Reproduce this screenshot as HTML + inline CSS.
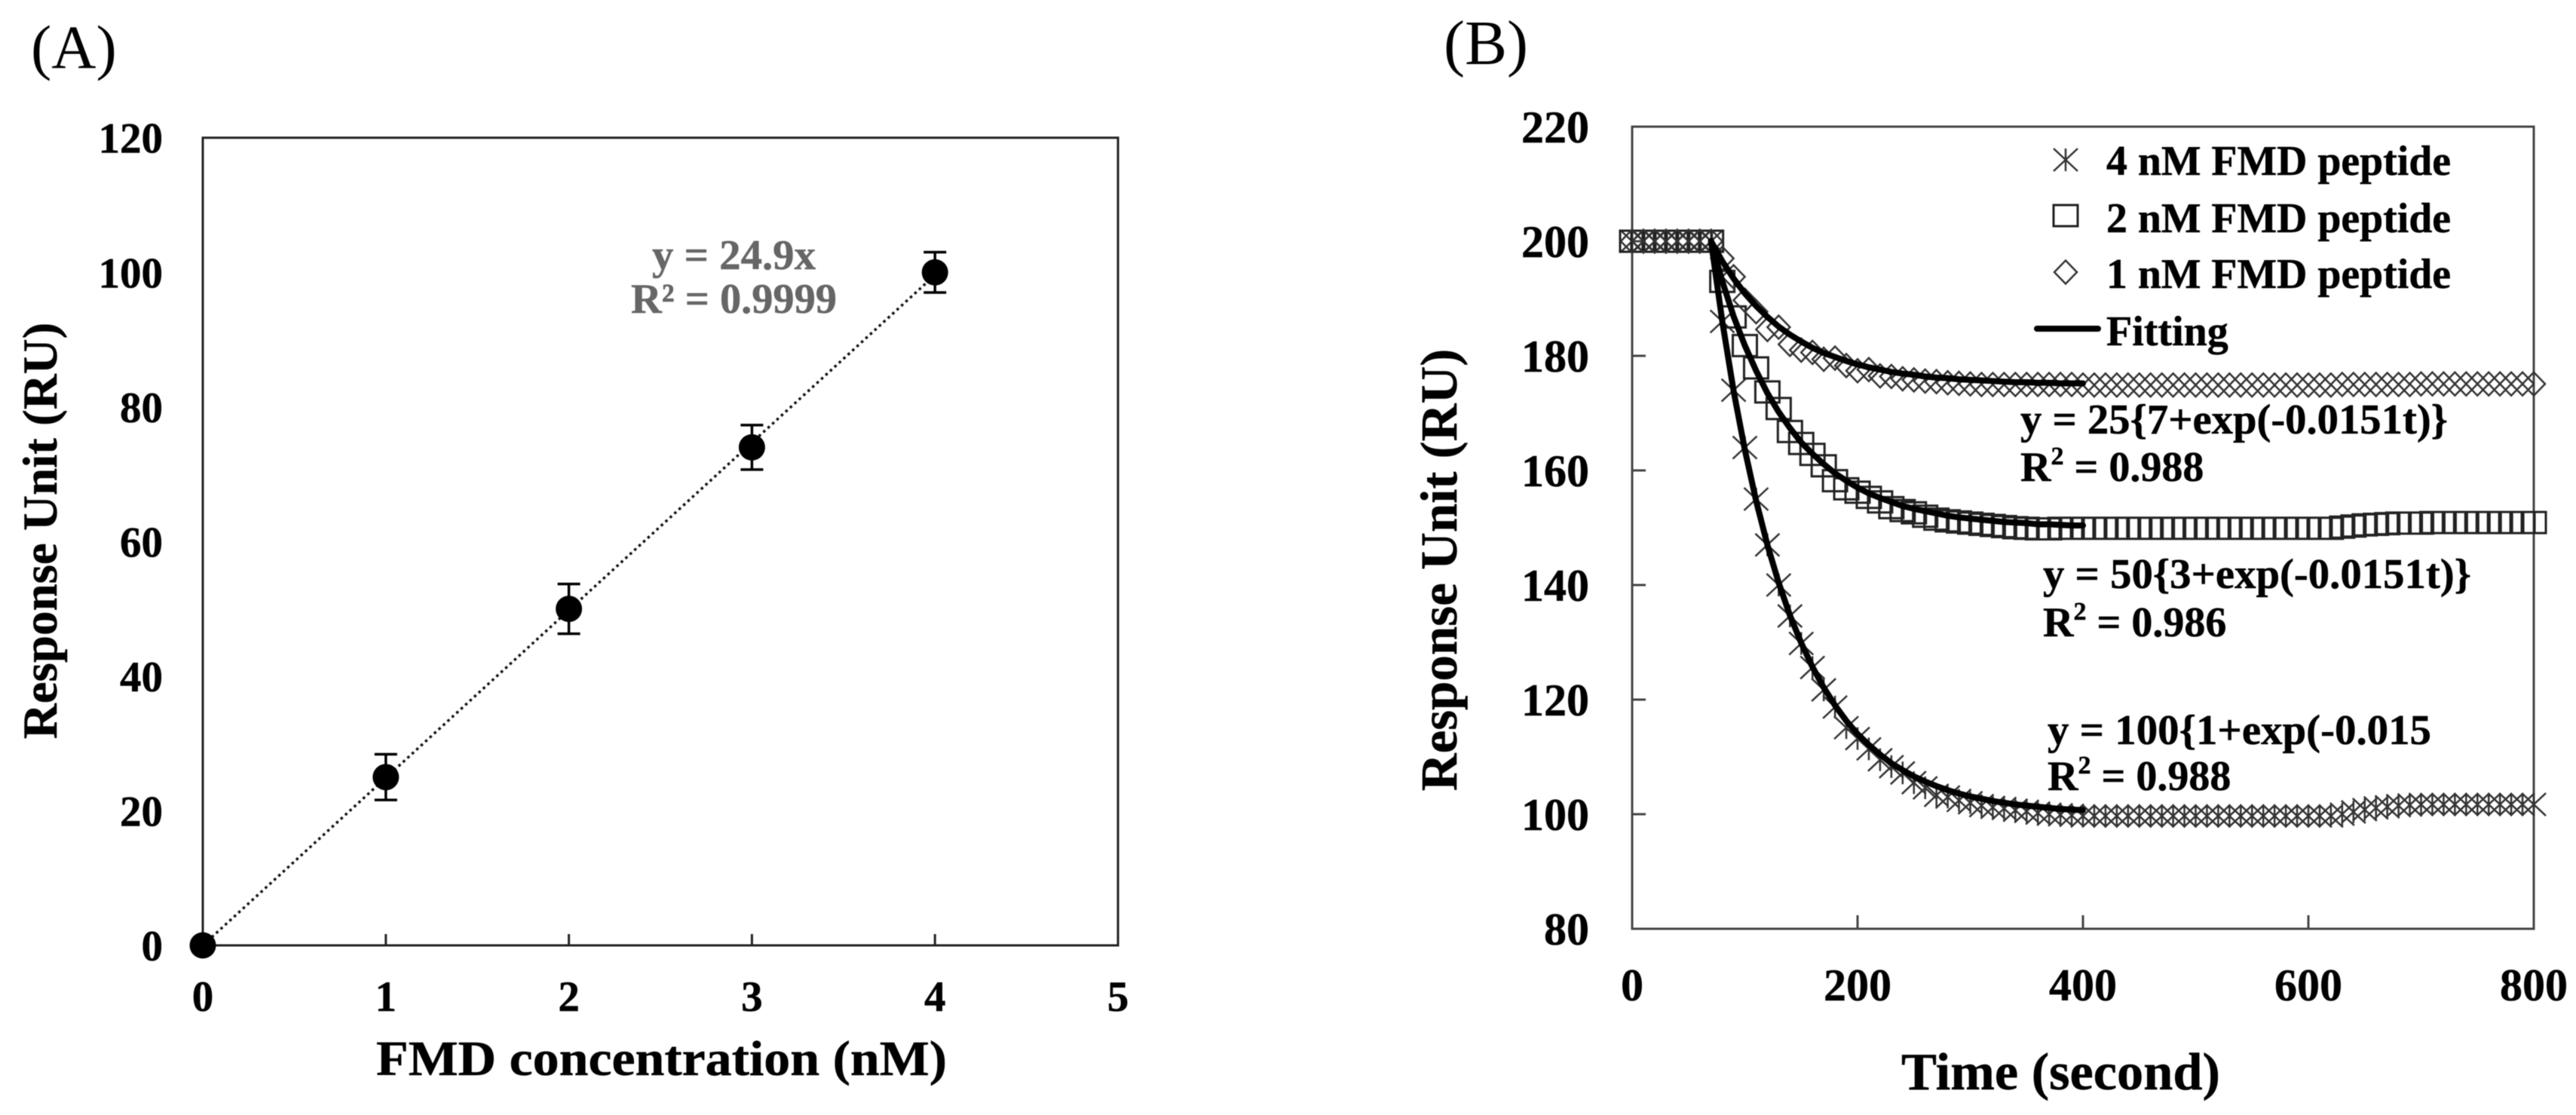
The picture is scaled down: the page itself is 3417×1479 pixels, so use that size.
<!DOCTYPE html>
<html lang="en">
<head>
<meta charset="utf-8">
<title>FMD peptide response charts</title>
<style>
  html, body { margin: 0; padding: 0; background: #fff; }
  svg { display: block; filter: blur(0.6px); }
  text { font-family: "Liberation Serif", serif; font-weight: bold; fill: #000; stroke: #000; stroke-width: 0.5px; }
</style>
</head>
<body>
<svg id="figure" xmlns="http://www.w3.org/2000/svg" width="3417" height="1479" viewBox="0 0 3417 1479">
  <rect x="0" y="0" width="3417" height="1479" fill="#fff"/>

  <text x="41" y="90" font-size="82" style="font-weight:normal;stroke:none">(A)</text>
  <text x="1915" y="85" font-size="84" style="font-weight:normal;stroke:none">(B)</text>

  <g id="panelA"></g>
  <g id="panelB"></g>

  <text x="499" y="1426" font-size="66" textLength="757" lengthAdjust="spacingAndGlyphs">FMD concentration (nM)</text>
  <text transform="translate(75 704) rotate(-90)" text-anchor="middle" font-size="65">Response Unit (RU)</text>
  <text x="865" y="357" font-size="56" style="fill:#666;stroke:#666" textLength="217" lengthAdjust="spacingAndGlyphs">y = 24.9x</text>
  <text x="837" y="415" font-size="56" style="fill:#666;stroke:#666" textLength="273" lengthAdjust="spacingAndGlyphs">R² = 0.9999</text>

  <text x="2522" y="1445" font-size="70" textLength="423" lengthAdjust="spacingAndGlyphs">Time (second)</text>
  <text transform="translate(1932 756) rotate(-90)" text-anchor="middle" font-size="69">Response Unit (RU)</text>

  <text x="2794" y="232" font-size="56" textLength="457" lengthAdjust="spacingAndGlyphs">4 nM FMD peptide</text>
  <text x="2794" y="308" font-size="56" textLength="457" lengthAdjust="spacingAndGlyphs">2 nM FMD peptide</text>
  <text x="2794" y="382" font-size="56" textLength="457" lengthAdjust="spacingAndGlyphs">1 nM FMD peptide</text>
  <text x="2794" y="458" font-size="56">Fitting</text>

  <text x="2680" y="575" font-size="56" textLength="567" lengthAdjust="spacingAndGlyphs">y = 25{7+exp(-0.0151t)}</text>
  <text x="2680" y="638" font-size="56">R<tspan font-size="34" dy="-22">2</tspan><tspan dy="22"> = 0.988</tspan></text>
  <text x="2710" y="780" font-size="56" textLength="568" lengthAdjust="spacingAndGlyphs">y = 50{3+exp(-0.0151t)}</text>
  <text x="2710" y="844" font-size="56">R<tspan font-size="34" dy="-22">2</tspan><tspan dy="22"> = 0.986</tspan></text>
  <text x="2716" y="987" font-size="56" textLength="509" lengthAdjust="spacingAndGlyphs">y = 100{1+exp(-0.015</text>
  <text x="2716" y="1048" font-size="56">R<tspan font-size="34" dy="-22">2</tspan><tspan dy="22"> = 0.988</tspan></text>
</svg>

<script>
// ---------- Panel A data ----------
const concentration = [0, 1, 2, 3, 4];
const responseA = [0, 25, 50, 74, 100];
const errorA = [0, 3.4, 3.7, 3.3, 3];
const trendX = [0, 4];
const trendY = [0, 99.6];
const aXTicks = [0, 1, 2, 3, 4, 5];
const aYTicks = [0, 20, 40, 60, 80, 100, 120];

// ---------- Panel B data ----------
const timeB = [0,10,20,30,40,50,60,70,80,90,100,110,120,130,140,150,160,170,180,190,200,210,220,230,240,250,260,270,280,290,300,310,320,330,340,350,360,370,380,390,400,410,420,430,440,450,460,470,480,490,500,510,520,530,540,550,560,570,580,590,600,610,620,630,640,650,660,670,680,690,700,710,720,730,740,750,760,770,780,790,800];
const peptide4nM = [200,200,200,200,200,200,200,200,186,174,164,155,147,140,134.6,129.8,125.6,121.7,118.7,115.1,113.2,111.4,109.5,108.3,107.2,105.5,104.6,103.3,103,102.4,102,101.5,101.2,101,100.7,100.5,100.2,100,99.9,99.8,99.7,99.7,99.7,99.7,99.7,99.7,99.7,99.7,99.7,99.7,99.7,99.7,99.7,99.7,99.7,99.7,99.7,99.7,99.7,99.7,99.7,99.7,99.7,100,100.4,100.8,101.1,101.3,101.5,101.6,101.7,101.7,101.7,101.7,101.7,101.7,101.7,101.7,101.7,101.7,101.7];
const peptide2nM = [200,200,200,200,200,200,200,200,193,186.8,181.8,177.9,173.7,170.8,166.8,164.7,162.8,160.8,158.2,156.8,156.2,155.3,154.5,153.5,153,152.6,152,151.5,151.2,151,150.8,150.6,150.4,150.2,150,149.9,149.8,149.8,149.9,149.9,149.9,149.9,149.9,149.9,149.9,149.9,149.9,149.9,149.9,149.9,149.9,149.9,149.9,149.9,149.9,149.9,149.9,149.9,149.9,149.9,149.9,149.9,149.9,150.1,150.3,150.5,150.6,150.7,150.8,150.8,150.8,150.9,150.9,150.9,150.9,150.9,150.9,150.9,150.9,150.9,150.9];
const peptide1nM = [200,200,200,200,200,200,200,200,197,193.8,189.7,187.7,184.6,185,182,181,180.6,179.4,179.6,178.3,177.4,177.6,176.5,176.4,176,175.8,175.6,175.5,175.3,175.2,175.1,175,175,175,175,175,175,175,175,175,174.9,174.9,174.9,174.9,174.9,174.9,174.9,174.9,174.9,174.9,174.9,174.9,174.9,174.9,174.9,174.9,174.9,174.9,174.9,174.9,174.9,174.9,174.9,175,175,175,175,175,175,175,175.1,175.1,175.1,175.1,175.1,175.1,175.1,175.1,175.1,175.1,175.1];
const fitTime = [70,80,90,100,110,120,130,140,150,160,170,180,190,200,210,220,230,240,250,260,270,280,290,300,310,320,330,340,350,360,370,380,390,400];
const fit4nM = [200,186,173.9,163.6,154.7,147,140.4,134.7,129.9,125.7,122.1,119,116.3,114,112.1,110.4,108.9,107.7,106.6,105.7,104.9,104.2,103.6,103.1,102.7,102.3,102,101.7,101.5,101.3,101.1,100.9,100.8,100.7];
const fit2nM = [200,193,186.9,181.8,177.4,173.5,170.2,167.4,164.9,162.9,161.1,159.5,158.2,157,156,155.2,154.5,153.8,153.3,152.9,152.5,152.1,151.8,151.6,151.4,151.2,151,150.9,150.8,150.6,150.6,150.5,150.4,150.4];
const fit1nM = [200,196.5,193.5,190.9,188.7,186.8,185.1,183.7,182.5,181.4,180.5,179.8,179.1,178.5,178,177.6,177.2,176.9,176.7,176.4,176.2,176.1,175.9,175.8,175.7,175.6,175.5,175.4,175.4,175.3,175.3,175.2,175.2,175.2];
const bXTicks = [0, 200, 400, 600, 800];
const bYTicks = [80, 100, 120, 140, 160, 180, 200, 220];

// ---------- helpers ----------
const SVG_NS = 'http://www.w3.org/2000/svg';
function make(parent, tag, attrs, txt) {
  const el = document.createElementNS(SVG_NS, tag);
  for (const k in attrs) el.setAttribute(k, attrs[k]);
  if (txt !== undefined) el.textContent = txt;
  parent.appendChild(el);
  return el;
}
const xA = v => 269 + v * (1483 - 269) / 5;
const yA = v => 1254 - v * (1254 - 182.7) / 120;
const xB = t => 2165 + t * 1196 / 800;
const yB = v => 1232 - (v - 80) * 7.6;

// ---------- Panel A ----------
const panelA = document.getElementById('panelA');
const frameA = make(panelA, 'rect', {x: xA(0), y: yA(120), width: xA(5) - xA(0), height: yA(0) - yA(120), fill: 'none', stroke: '#222', 'stroke-width': 3});



aXTicks.forEach(v => {
  if (v > 0 && v < 5) {
    const t = make(panelA, 'line', {x1: xA(v), x2: xA(v), y1: yA(0), y2: yA(0) - 15, stroke: '#222', 'stroke-width': 3});
    
    
  }
  const l = make(panelA, 'text', {x: xA(v), y: 1341, 'text-anchor': 'middle', 'font-size': 57}, String(v));
  
  
});
aYTicks.forEach(v => {
  const l = make(panelA, 'text', {x: 216, y: yA(v) + 20, 'text-anchor': 'end', 'font-size': 57}, String(v));
  
  
});

const trend = make(panelA, 'line', {x1: xA(trendX[0]), y1: yA(trendY[0]), x2: xA(trendX[1]), y2: yA(trendY[1]), stroke: '#111', 'stroke-width': 3.5, 'stroke-dasharray': '3.5 4.5'});



concentration.forEach((c, i) => {
  if (errorA[i] > 0) {
    const e = make(panelA, 'path', {
      d: `M${xA(c)} ${yA(responseA[i] + errorA[i])}V${yA(responseA[i] - errorA[i])}` +
         `M${xA(c) - 15} ${yA(responseA[i] + errorA[i])}h30` +
         `M${xA(c) - 15} ${yA(responseA[i] - errorA[i])}h30`,
      fill: 'none', stroke: '#000', 'stroke-width': 3.5});
    
    
  }
  const p = make(panelA, 'circle', {cx: xA(c), cy: yA(responseA[i]), r: 17.5, fill: '#000'});
  
  
});

// ---------- Panel B ----------
const panelB = document.getElementById('panelB');
const frameB = make(panelB, 'rect', {x: xB(0), y: yB(220), width: xB(800) - xB(0), height: yB(80) - yB(220), fill: 'none', stroke: '#444', 'stroke-width': 3});



bXTicks.forEach(v => {
  if (v > 0 && v < 800) {
    const t = make(panelB, 'line', {x1: xB(v), x2: xB(v), y1: yB(80), y2: yB(80) - 18, stroke: '#444', 'stroke-width': 3});
    
    
  }
  const l = make(panelB, 'text', {x: xB(v), y: 1327, 'text-anchor': 'middle', 'font-size': 60}, String(v));
  
  
});
bYTicks.forEach(v => {
  if (v > 80 && v < 220) {
    const t = make(panelB, 'line', {x1: xB(0), x2: xB(0) + 18, y1: yB(v), y2: yB(v), stroke: '#444', 'stroke-width': 3});
    
    
  }
  const l = make(panelB, 'text', {x: 2108, y: yB(v) + 21, 'text-anchor': 'end', 'font-size': 60}, String(v));
  
  
});

function markerPath(kind, cx, cy) {
  if (kind === 'star') {
    return `M${cx - 16} ${cy - 15}L${cx + 16} ${cy + 15}M${cx - 16} ${cy + 15}L${cx + 16} ${cy - 15}M${cx} ${cy - 15}V${cy + 15}`;
  }
  if (kind === 'square') {
    return `M${cx - 16} ${cy - 14}h32v28h-32z`;
  }
  return `M${cx} ${cy - 15.5}L${cx + 15} ${cy}L${cx} ${cy + 15.5}L${cx - 15} ${cy}z`;
}
function seriesPath(kind, values) {
  return values.map((v, i) => markerPath(kind, xB(timeB[i]), yB(v))).join('');
}
const star = make(panelB, 'path', {d: seriesPath('star', peptide4nM), fill: 'none', stroke: '#333', 'stroke-width': 2.5});


const square = make(panelB, 'path', {d: seriesPath('square', peptide2nM), fill: 'none', stroke: '#222', 'stroke-width': 3});


const diamond = make(panelB, 'path', {d: seriesPath('diamond', peptide1nM), fill: 'none', stroke: '#333', 'stroke-width': 2.5});



function fitPoints(values) {
  return values.map((v, i) => `${xB(fitTime[i])},${yB(v)}`).join(' ');
}
const fitAttrs = {fill: 'none', stroke: '#000', 'stroke-width': 8, 'stroke-linejoin': 'round', 'stroke-linecap': 'round'};
const fitLine4 = make(panelB, 'polyline', Object.assign({points: fitPoints(fit4nM)}, fitAttrs));


const fitLine2 = make(panelB, 'polyline', Object.assign({points: fitPoints(fit2nM)}, fitAttrs));


const fitLine1 = make(panelB, 'polyline', Object.assign({points: fitPoints(fit1nM)}, fitAttrs));



// legend swatches
const swatch4 = make(panelB, 'path', {d: markerPath('star', 2740, 212), fill: 'none', stroke: '#333', 'stroke-width': 2.5});


const swatch2 = make(panelB, 'path', {d: markerPath('square', 2740, 286), fill: 'none', stroke: '#222', 'stroke-width': 3});


const swatch1 = make(panelB, 'path', {d: markerPath('diamond', 2740, 361), fill: 'none', stroke: '#333', 'stroke-width': 2.5});


const swatchFit = make(panelB, 'line', {x1: 2702, x2: 2783, y1: 436, y2: 436, stroke: '#000', 'stroke-width': 8, 'stroke-linecap': 'round'});


</script>
</body>
</html>
